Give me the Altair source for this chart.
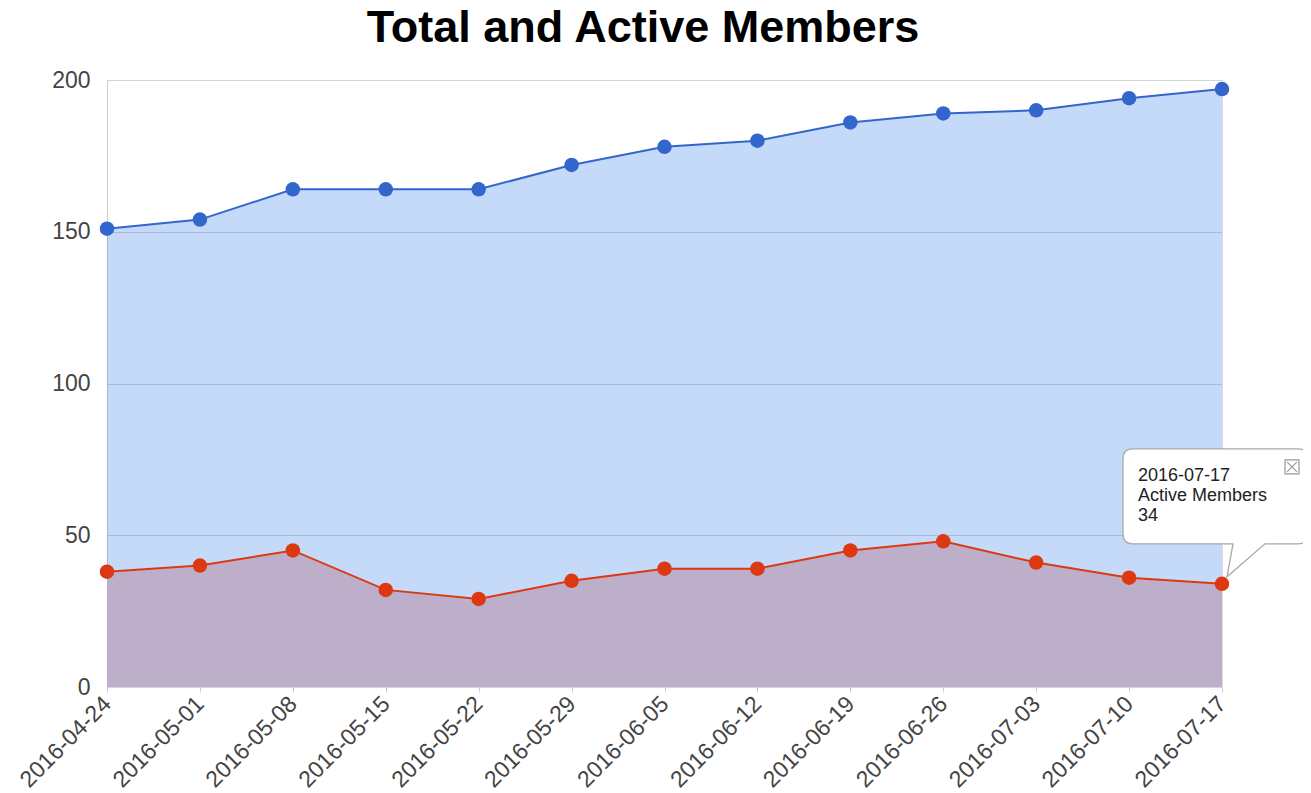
import altair as alt
import pandas as pd

dates = ["2016-04-24", "2016-05-01", "2016-05-08", "2016-05-15", "2016-05-22",
         "2016-05-29", "2016-06-05", "2016-06-12", "2016-06-19", "2016-06-26",
         "2016-07-03", "2016-07-10", "2016-07-17"]
total_members = [151, 154, 164, 164, 164, 172, 178, 180, 186, 189, 190, 194, 197]
active_members = [38, 40, 45, 32, 29, 35, 39, 39, 45, 48, 41, 36, 34]
y_ticks = [0, 50, 100, 150, 200]
chart_title = ["Total and Active Members"]

FONT = "Liberation Sans"

df = pd.DataFrame({"date": dates, "total": total_members, "active": active_members})
tip_df = pd.DataFrame({"date": [dates[-1]], "active": [active_members[-1]],
                       "label": ["Active Members"]})
title_df = pd.DataFrame({"t": chart_title})

x_enc = alt.X("date:O", sort=None, scale=alt.Scale(type="point", padding=0),
              axis=alt.Axis(title=None, labelAngle=-45, labelAlign="right",
                            labelBaseline="middle", labelPadding=8, ticks=True,
                            tickSize=5, tickColor="#cccccc", domain=False, grid=False,
                            labelFontSize=23, labelColor="#444444", labelFont=FONT))

y_scale = alt.Scale(domain=[0, 200], nice=False)
y_axis = alt.Axis(title=None, values=y_ticks, ticks=False, domain=True,
                  domainColor="#cccccc", grid=True, gridColor="#d4d4d4",
                  labelFontSize=23, labelColor="#444444", labelFont=FONT,
                  labelPadding=17)

base = alt.Chart(df)

area_total = base.mark_area(color="#3e80eb", opacity=0.3).encode(
    x=x_enc, y=alt.Y("total:Q", scale=y_scale, axis=y_axis))
area_active = base.mark_area(color="#bdaec9", opacity=1).encode(
    x="date:O", y=alt.Y("active:Q", scale=y_scale))
line_total = base.mark_line(color="#3366cc", strokeWidth=2).encode(
    x="date:O", y=alt.Y("total:Q", scale=y_scale))
line_active = base.mark_line(color="#dc3912", strokeWidth=2).encode(
    x="date:O", y=alt.Y("active:Q", scale=y_scale))
pts_total = base.mark_point(filled=True, color="#3366cc", size=210, opacity=1).encode(
    x="date:O", y=alt.Y("total:Q", scale=y_scale))
pts_active = base.mark_point(filled=True, color="#dc3912", size=210, opacity=1).encode(
    x="date:O", y=alt.Y("active:Q", scale=y_scale))

callout_path = ("M-89,-135 L76,-135 Q86,-135 86,-125 L86,-50 Q86,-40 76,-40 "
                "L43,-40 L5,-7 L11,-40 L-89,-40 Q-99,-40 -99,-50 L-99,-125 "
                "Q-99,-135 -89,-135 Z")
close_path = ("M63,-124 L77,-124 L77,-110 L63,-110 Z "
              "M65,-122 L75,-112 M75,-122 L65,-112")

tip = alt.Chart(tip_df)
callout = tip.mark_point(shape=callout_path, size=4, filled=True, fill="white",
                         stroke="#a8a8a8", strokeWidth=1.3, opacity=1,
                         fillOpacity=1).encode(
    x="date:O", y=alt.Y("active:Q", scale=y_scale))
close_icon = tip.mark_point(shape=close_path, size=4, filled=False, stroke="#999999",
                            strokeWidth=1.2, opacity=1).encode(
    x="date:O", y=alt.Y("active:Q", scale=y_scale))
tstyle = dict(align="left", baseline="middle", font=FONT, fontSize=18, color="#222222", dx=-84)
t1 = tip.mark_text(dy=-108, **tstyle).encode(
    x="date:O", y=alt.Y("active:Q", scale=y_scale), text="date:N")
t2 = tip.mark_text(dy=-88, **tstyle).encode(
    x="date:O", y=alt.Y("active:Q", scale=y_scale), text="label:N")
t3 = tip.mark_text(dy=-68, **tstyle).encode(
    x="date:O", y=alt.Y("active:Q", scale=y_scale), text="active:Q")

title_mark = alt.Chart(title_df).mark_text(
    font=FONT, fontSize=45, fontWeight="bold", color="#000000",
    align="center", baseline="alphabetic").encode(
    x=alt.value(536), y=alt.value(-38), text="t:N")

chart = alt.layer(
    area_total, area_active, line_total, line_active, pts_total, pts_active,
    callout, close_icon, t1, t2, t3, title_mark
).properties(
    width=1115, height=607,
    autosize=alt.AutoSizeParams(type="none"),
    padding={"left": 99, "top": 72, "right": 81, "bottom": 106},
).configure_view(stroke=None).configure(background="white")

chart.save("out.html", embed_options={"renderer": "svg", "actions": False})
